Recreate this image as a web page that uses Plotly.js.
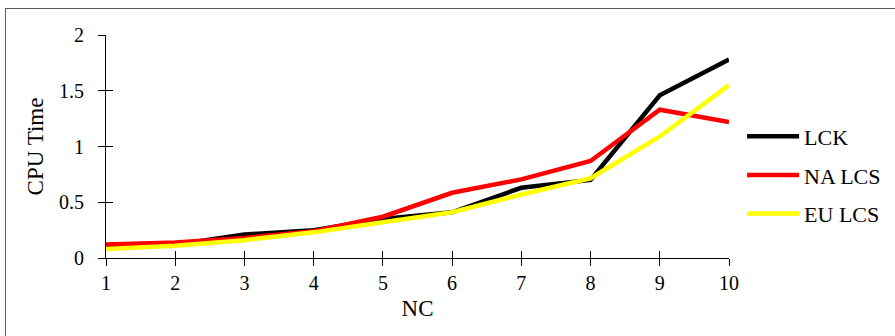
<!DOCTYPE html>
<html><head><meta charset="utf-8">
<script src="https://cdn.plot.ly/plotly-3.0.1.min.js"></script>
<style>
html,body{margin:0;padding:0;width:895px;height:336px;overflow:hidden;background:#fff;}
#chart{width:895px;height:336px;}
#frame{position:absolute;left:5px;top:8px;width:1000px;height:1000px;border:1px solid #5a5a5a;pointer-events:none;}
</style></head>
<body>
<div id="chart"></div>
<div id="frame"></div>
<script>
const nc = [1,2,3,4,5,6,7,8,9,10];
const lck   = [0.10,0.12,0.21,0.25,0.35,0.41,0.63,0.70,1.46,1.78];
const naLcs = [0.12,0.14,0.18,0.24,0.37,0.585,0.705,0.87,1.33,1.22];
const euLcs = [0.08,0.11,0.16,0.23,0.32,0.41,0.57,0.715,1.09,1.55];
const yTicks = [0,0.5,1,1.5,2];
const yTickText = ['0','0.5','1','1.5','2'];

const font = 'Liberation Serif, Times New Roman, serif';
const mk = (name, y, color) => ({
  x: nc, y: y, name: name, type: 'scatter', mode: 'lines',
  legendgroup: name,
  line: {color: color, width: 4.5}
});
const traces = [
  mk('LCK', lck, '#000000'),
  mk('NA LCS', naLcs, '#ff0000'),
  mk('EU LCS', euLcs, '#ffff00'),
  {x:[1], y:[0], xaxis:'x2', yaxis:'y2', mode:'markers', marker:{opacity:0}, showlegend:false, hoverinfo:'skip'}
];
const layout = {
  width: 895, height: 336,
  margin: {l:106, r:166, t:35, b:78, autoexpand:false},
  paper_bgcolor: '#ffffff', plot_bgcolor: '#ffffff',
  font: {family: font, size: 20, color: '#000'},
  showlegend: true,
  legend: {x:1.021, xanchor:'left', y:0.372, yanchor:'middle',
    font:{family:font, size:22, color:'#000'},
    traceorder:'grouped', tracegroupgap:7, itemwidth:52, bgcolor:'rgba(0,0,0,0)'},
  xaxis: {range:[1,10], tickvals: nc, showgrid:false, zeroline:false,
    showline:true, linecolor:'#000', linewidth:1,
    ticks:'outside', ticklen:7, tickcolor:'#000', tickwidth:1,
    tickfont:{family:font, size:20},
    title:{text:'NC', font:{family:font, size:23}, standoff:6}},
  yaxis: {range:[0,2], tickvals: yTicks, ticktext: yTickText, showgrid:false, zeroline:false,
    showline:true, linecolor:'#000', linewidth:1,
    ticks:'outside', ticklen:7, tickcolor:'#000', tickwidth:1, ticklabelstandoff:10,
    tickfont:{family:font, size:20},
    title:{text:'CPU Time', font:{family:font, size:23}, standoff:8}},
  xaxis2: {overlaying:'x', anchor:'y2', range:[1,10], tickvals: nc, showticklabels:false,
    showgrid:false, zeroline:false, showline:false, ticks:'inside', ticklen:7, tickcolor:'#000', tickwidth:1},
  yaxis2: {overlaying:'y', anchor:'x2', range:[0,2], tickvals: yTicks, showticklabels:false,
    showgrid:false, zeroline:false, showline:false, ticks:'inside', ticklen:7, tickcolor:'#000', tickwidth:1}
};
Plotly.newPlot('chart', traces, layout, {displayModeBar:false, staticPlot:true});
</script>
</body></html>
